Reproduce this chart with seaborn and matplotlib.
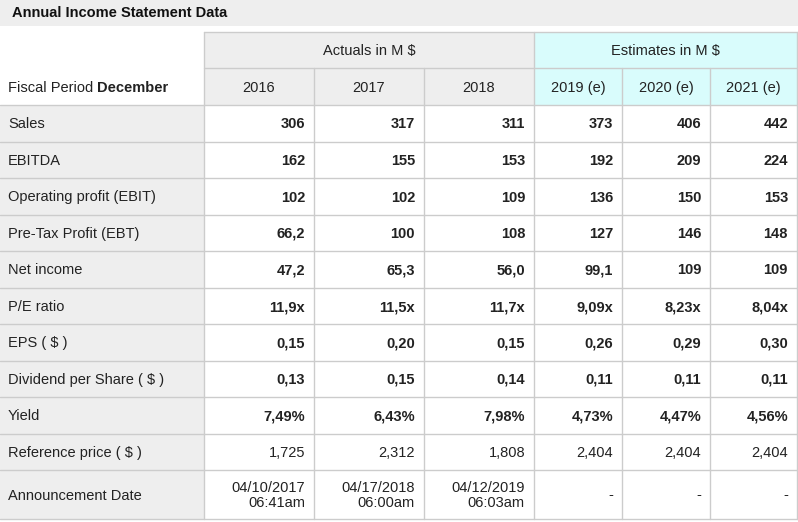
import matplotlib
matplotlib.use("Agg")
import matplotlib.pyplot as plt
import seaborn as sns

sns.set_theme(style="white")
plt.rcParams['font.family'] = ['Liberation Sans', 'DejaVu Sans']

# table content
title = "Annual Income Statement Data"
groups = ["Actuals in M $", "Estimates in M $"]
years = ["2016", "2017", "2018", "2019 (e)", "2020 (e)", "2021 (e)"]
row_labels = ["Sales", "EBITDA", "Operating profit (EBIT)", "Pre-Tax Profit (EBT)",
              "Net income", "P/E ratio", "EPS ( $ )", "Dividend per Share ( $ )",
              "Yield", "Reference price ( $ )", "Announcement Date"]
sales = ["306", "317", "311", "373", "406", "442"]
ebitda = ["162", "155", "153", "192", "209", "224"]
ebit = ["102", "102", "109", "136", "150", "153"]
ebt = ["66,2", "100", "108", "127", "146", "148"]
net_income = ["47,2", "65,3", "56,0", "99,1", "109", "109"]
pe_ratio = ["11,9x", "11,5x", "11,7x", "9,09x", "8,23x", "8,04x"]
eps = ["0,15", "0,20", "0,15", "0,26", "0,29", "0,30"]
dividend = ["0,13", "0,15", "0,14", "0,11", "0,11", "0,11"]
yields = ["7,49%", "6,43%", "7,98%", "4,73%", "4,47%", "4,56%"]
ref_price = ["1,725", "2,312", "1,808", "2,404", "2,404", "2,404"]
announce = ["04/10/2017\n06:41am", "04/17/2018\n06:00am", "04/12/2019\n06:03am", "-", "-", "-"]
rows = [sales, ebitda, ebit, ebt, net_income, pe_ratio, eps, dividend, yields, ref_price, announce]
bold_rows = [True] * 9 + [False, False]

# layout (pixels)
W, H = 798, 522
col_edges = [0, 204, 314, 424, 534, 622, 710, 797]
row_edges = [105, 142, 178, 215, 251, 288, 324, 361, 397, 434, 470, 519]
GRAY = "#eeeeee"
CYAN = "#d9fcfc"
LINE = "#cccccc"
TXT = "#222222"
FS = 10.5
BASE = 5.0  # baseline offset below the cell centre

fig = plt.figure(figsize=(W / 100, H / 100), dpi=100)
ax = fig.add_axes([0, 0, 1, 1])
ax.set_xlim(0, W)
ax.set_ylim(H, 0)
ax.axis("off")

def rect(x0, y0, x1, y1, color):
    ax.add_patch(plt.Rectangle((x0, y0), x1 - x0, y1 - y0, facecolor=color,
                               edgecolor="none", zorder=1))

# title bar
rect(0, 0, W, 26, GRAY)
ax.text(12, 17, title, fontsize=FS, fontweight="bold", color="#111111",
        va="baseline", ha="left")

# header
rect(col_edges[1], 32, col_edges[4], 105, GRAY)
rect(col_edges[4], 32, W, 105, CYAN)
ax.text((col_edges[1] + col_edges[4]) / 2, 55.5, groups[0], fontsize=FS, color=TXT,
        ha="center", va="baseline")
ax.text((col_edges[4] + col_edges[7]) / 2, 55.5, groups[1], fontsize=FS, color=TXT,
        ha="center", va="baseline")
for j, y in enumerate(years):
    ax.text((col_edges[j + 1] + col_edges[j + 2]) / 2, 92, y, fontsize=FS,
            color=TXT, ha="center", va="baseline")
t = ax.text(8, 92, "Fiscal Period ", fontsize=FS, color=TXT, ha="left", va="baseline")
fig.canvas.draw()
bb = t.get_window_extent().transformed(ax.transData.inverted())
ax.text(bb.x1, 92, "December", fontsize=FS, fontweight="bold", color=TXT,
        ha="left", va="baseline")

# header lines
lw = 1.0
ax.plot([col_edges[1], W], [32, 32], color=LINE, lw=lw, zorder=2)
ax.plot([col_edges[1], W], [68, 68], color=LINE, lw=lw, zorder=2)
for x in [col_edges[1], col_edges[4], col_edges[7]]:
    ax.plot([x, x], [32, 105], color=LINE, lw=lw, zorder=2)
for x in [col_edges[2], col_edges[3], col_edges[5], col_edges[6]]:
    ax.plot([x, x], [68, 105], color=LINE, lw=lw, zorder=2)

# body
for i, (label, vals) in enumerate(zip(row_labels, rows)):
    y0, y1 = row_edges[i], row_edges[i + 1]
    yc = (y0 + y1) / 2
    rect(0, y0, col_edges[1], y1, GRAY)
    ax.text(8, yc + BASE, label, fontsize=FS, color=TXT, ha="left", va="baseline")
    for j, v in enumerate(vals):
        lines = v.split("\n")
        if len(lines) == 1:
            ys = [yc + BASE]
        else:
            ys = [yc - 2.5, yc + 12.5]
        for yl, s in zip(ys, lines):
            ax.text(col_edges[j + 2] - 9, yl, s, fontsize=FS, color=TXT,
                    fontweight="bold" if bold_rows[i] else "normal",
                    ha="right", va="baseline")

for y in row_edges:
    ax.plot([0, W], [y, y], color=LINE, lw=lw, zorder=2)
for x in col_edges[1:]:
    ax.plot([x, x], [row_edges[0], row_edges[-1]], color=LINE, lw=lw, zorder=2)

fig.savefig("out.png", dpi=100)
